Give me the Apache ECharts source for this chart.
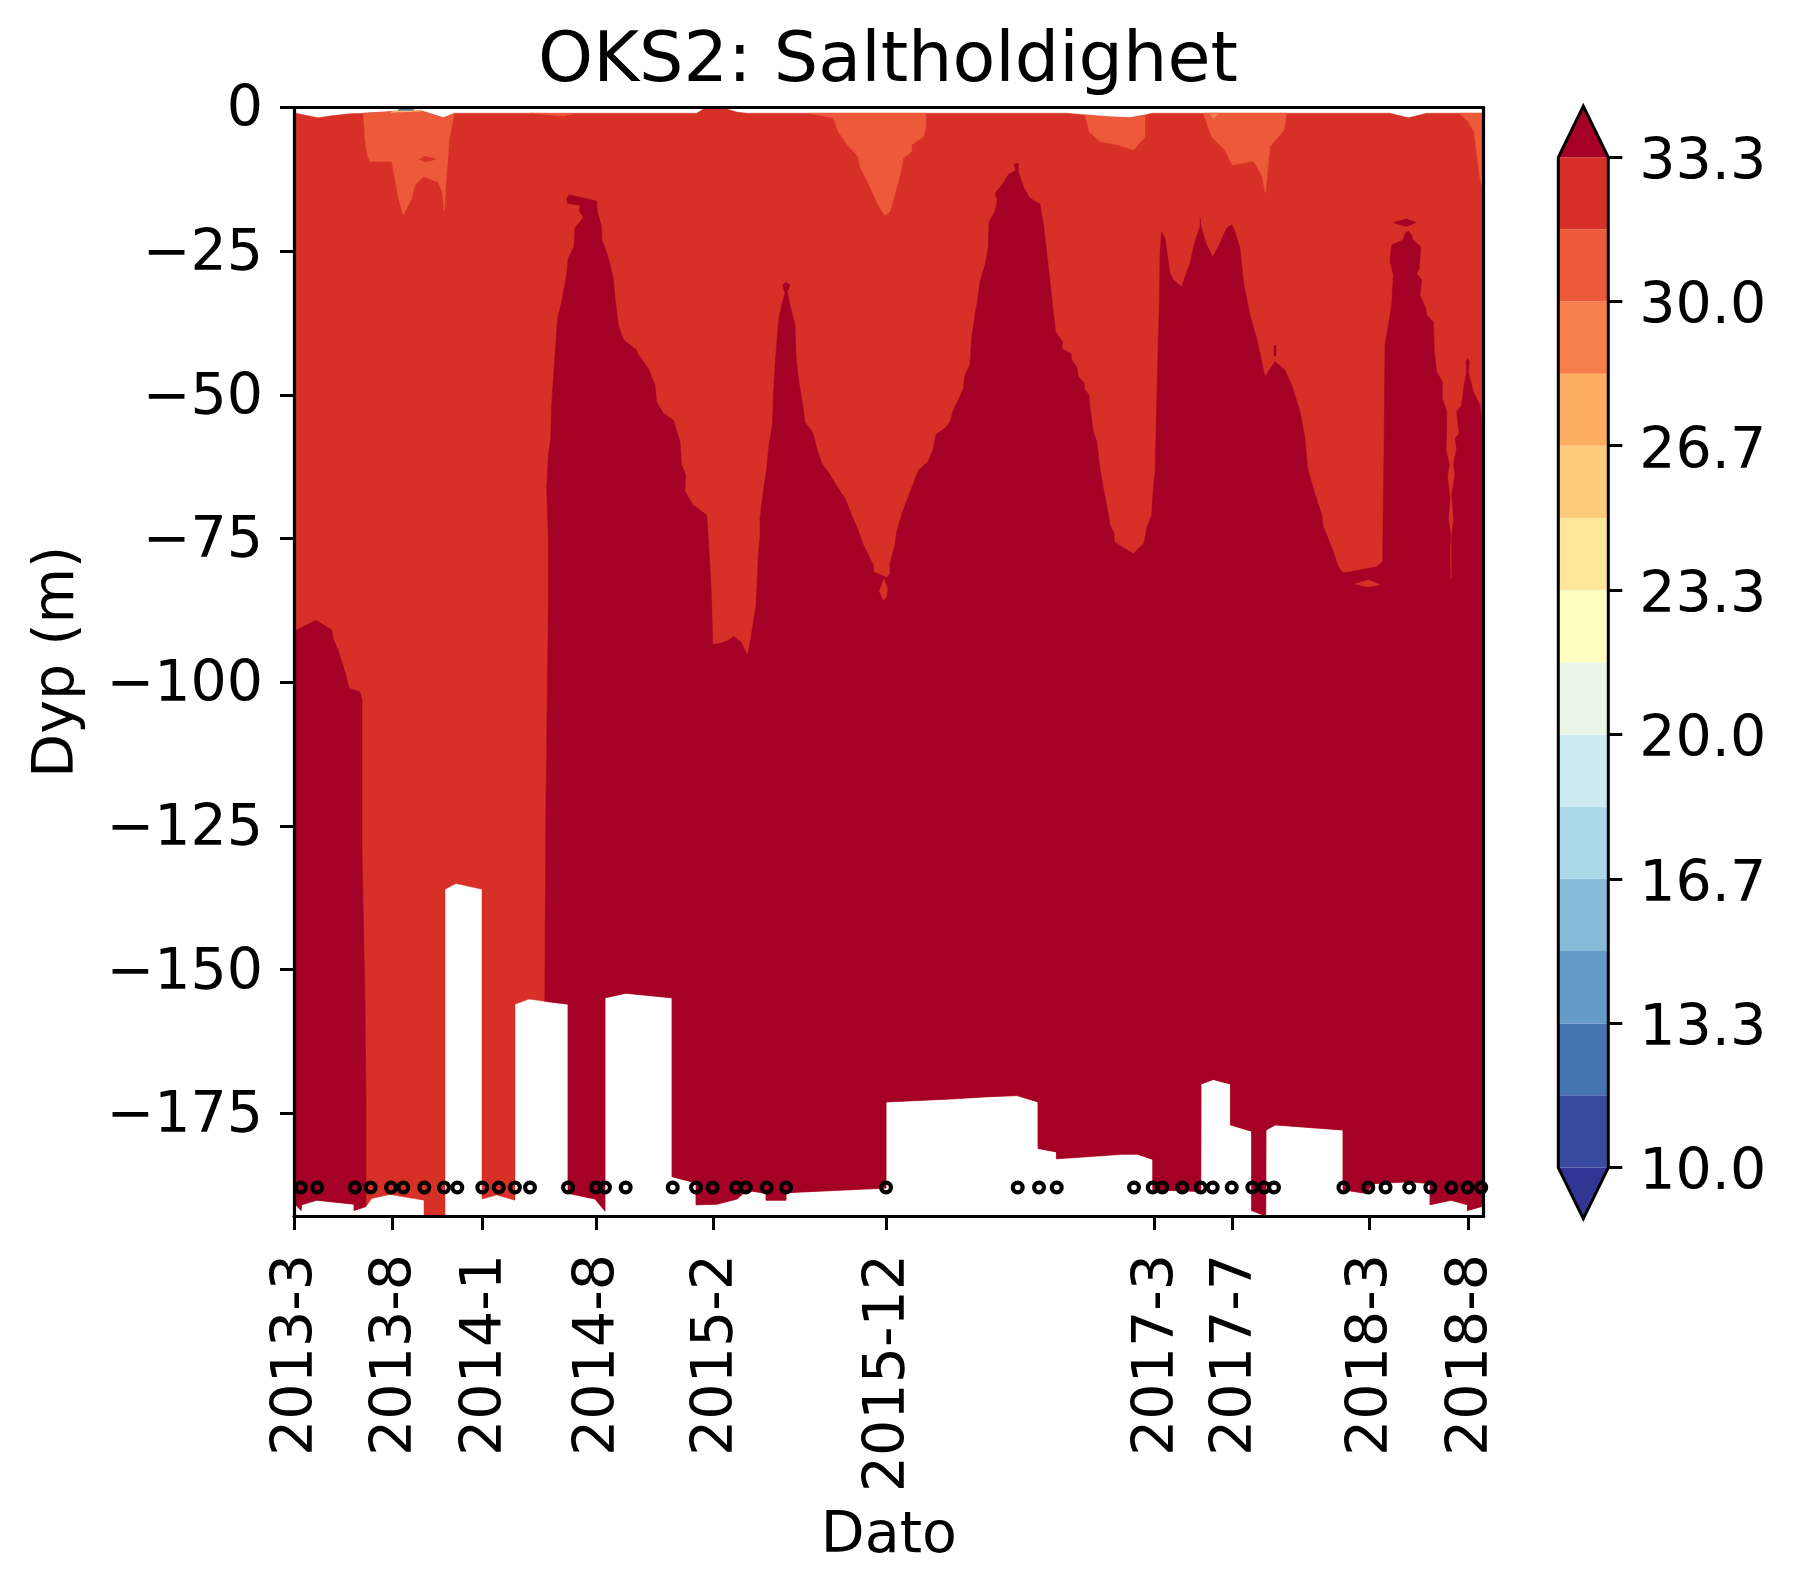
<!DOCTYPE html>
<html><head><meta charset="utf-8">
<style>html,body{margin:0;padding:0;background:#fff}#c{width:1795px;height:1593px}</style>
<script src="https://cdn.jsdelivr.net/npm/echarts@6/dist/echarts.min.js"></script>
</head><body><div id="c"></div>
<script>
// x = days after the first cruise, second value = depth in metres (positive down)
const xMax = 1982.8, depthMax = 192.85;
const xTickDays = [0,164.5,313.8,503.3,698.8,986.7,1434.2,1564,1791.7,1957.7];
const xTickLabels = ['2013-3','2013-8','2014-1','2014-8','2015-2','2015-12','2017-3','2017-7','2018-3','2018-8'];
const depthTicks = [0,-25,-50,-75,-100,-125,-150,-175];
const markerDays = [11.2,38.8,101.7,127.8,161.7,182.2,217.2,250,272.2,313.8,341.2,368.3,393.3,456.7,503.3,518.3,552.8,631.2,670,697.8,736.7,752.8,787.8,820,986.7,1206.2,1241.7,1271.2,1400,1431.2,1447.2,1480.5,1511.2,1531.2,1562.8,1597.2,1616.7,1633.3,1749,1790.5,1819.2,1858.7,1893.8,1928.8,1955.7,1978.7];
const markerDepth = 187.9;

const surface = [[0,0.9],[21.1,1.4],[40.5,1.8],[65.5,1.4],[93.3,1.1],[115.5,1],[165.5,0.7],[185,0.3],[212.8,0.6],[248.9,1.8],[268.3,1],[671.1,1],[685,0.1],[715.5,0.1],[737.8,0.8],[754.4,1],[1287.8,1],[1321.1,1.3],[1354.4,1.6],[1393.3,1.8],[1418.3,1.3],[1429.4,1],[1826.7,1],[1857.2,1.8],[1887.8,1],[1982.8,1]];
const bottom = [[0,190.6],[11.7,191.9],[12.8,190.9],[37.8,190.1],[100,190.8],[100,191.9],[120,191.2],[129.5,189.8],[160,189.1],[216.7,190.1],[216.7,192.85],[251.7,192.85],[251.7,136],[270,135],[313.3,136],[313.3,189.9],[337.8,189.2],[368.3,190.1],[368.3,156],[391.7,155.1],[418,155.5],[456.7,156],[456.7,188.9],[501.7,189.9],[518.3,192],[518.3,154.9],[553.3,154.1],[630,154.9],[630,186],[670,187.1],[670,190.9],[704.5,190.8],[738.3,189.9],[754.5,188.4],[786.7,188.9],[786.7,190.1],[820,190.1],[820,188.8],[986.7,188],[986.7,173],[1093.3,172.5],[1156.7,172.1],[1205,171.9],[1240,173],[1240,181.1],[1270.7,181.7],[1270.7,182.9],[1313.3,182.6],[1380,182.1],[1405.8,182.1],[1431.3,183],[1431.3,188.3],[1511.2,188.6],[1511.7,169.9],[1532.2,169.1],[1560.8,169.9],[1560.8,177],[1596,178.1],[1596,191.9],[1619.5,192.85],[1620,177.9],[1635.5,177],[1748.3,177.9],[1748.3,188.3],[1785,188.9],[1801.7,187.2],[1858.3,186.9],[1893.3,187.2],[1893.3,190.9],[1928.3,190.1],[1955.7,190.9],[1955.7,191.9],[1982.8,191.1]];

const haloclineLeft = [[0,91.1],[11.7,90.5],[36.7,89.2],[63.3,90.9],[65,92.3],[73.3,94.4],[85,98.2],[91.7,101],[110,101.7],[113.3,103.1],[113.3,129.2],[118.3,155.3],[120,172.7],[120,191.2]];
const haloclineMain = [[418,155.5],[420,120],[423.9,86.6],[423.9,75],[421.1,66.3],[423.9,60.5],[427.8,57.6],[429.4,51.8],[435,43.1],[439.4,36.7],[446.1,33.8],[454.5,29.1],[457.2,26.2],[466.7,24.2],[468.3,21],[482.2,19.1],[475.5,18],[476.6,17],[455.6,16.7],[454.5,15.8],[458.9,15.2],[493.3,16],[504.4,16.3],[505.5,18.1],[512.7,20.7],[512.7,22.8],[523.9,26.2],[532.2,29.7],[535,33.2],[540.5,37.8],[548.9,40.4],[571.1,42.2],[573.9,43],[590.5,45.4],[601.6,48.3],[604.4,51.2],[615.5,53.2],[632.2,54.4],[643.3,58.1],[646.1,62.2],[652.8,63.9],[651.6,66.8],[665.5,69.2],[687.8,70.9],[690.5,75],[694.4,81.9],[696.1,86.6],[698,93.4],[710,93.2],[722,92.8],[733,92],[745,93],[752,94.5],[756,95.3],[762,92],[768,88],[770,86.6],[773.9,77.9],[776.6,75],[776.6,71.5],[782.2,66.8],[787.8,62.8],[791.7,58.7],[797.2,55.2],[798.9,50.6],[801.7,44.8],[804.4,41.3],[807.2,37.3],[812.8,34.4],[818.3,32.3],[814.4,30.9],[820,30.4],[826.7,30.9],[822.2,32],[826.7,34.4],[835,37.8],[836.7,43.1],[840.5,47.1],[846.1,50.6],[851.7,54.7],[865.5,56.7],[871.1,59.3],[879.4,61.9],[890.5,63.4],[907.2,66.3],[918.3,68],[929.4,70.9],[937.8,72.9],[948.9,76.1],[965.5,79.6],[965.5,80.8],[985,81.6],[987.8,81.9],[993.3,81],[993.3,79.3],[1001.6,76.1],[1004.4,73.8],[1015.5,70],[1023.9,67.7],[1032.2,65.4],[1040.5,63.1],[1057.2,61.6],[1065.5,59.3],[1070,56.9],[1085,55.8],[1093.3,54.7],[1098.9,52.6],[1107.2,50.9],[1115.5,48.9],[1118.3,46.5],[1126.6,44.8],[1129.4,40.2],[1135,36.1],[1140.5,32.6],[1143.3,30.3],[1151.6,27.4],[1157.2,24.5],[1158.3,19.9],[1168.3,18.1],[1172.2,16.1],[1168.3,14.9],[1182.2,13.2],[1190.5,11.7],[1203.3,10.9],[1200,9.9],[1207.2,9.7],[1207.2,11.2],[1215.5,13.8],[1226.6,15.8],[1243.3,16.8],[1250,21],[1254.4,25.1],[1260,30.3],[1265.5,35.5],[1269.4,39],[1281.1,40.8],[1279.4,42],[1295,42.8],[1296.1,43.9],[1304.4,45.1],[1307.2,46.8],[1316.6,47.9],[1318.3,49.1],[1325,50],[1326.6,52.3],[1332.2,56.4],[1337.8,58.1],[1343.3,62.8],[1348.9,66.3],[1354.4,69.2],[1360,72.6],[1366.6,74.1],[1367.2,75.5],[1382.2,76.6],[1398.9,77.6],[1416.6,75.8],[1421.1,73.2],[1429.4,70.9],[1432.2,66.3],[1435,63.4],[1437.8,51.8],[1440.5,40.2],[1442.2,34.4],[1443.3,25.7],[1446.1,21.6],[1451.6,22.8],[1460,28.8],[1465.5,30],[1479.4,31.2],[1493.3,27.1],[1501.6,23.3],[1510,20.7],[1510.5,19.3],[1511.6,20.7],[1521.1,23.9],[1531.1,26],[1543.3,23.6],[1554.4,21],[1562.8,20.4],[1568.3,21.6],[1576.6,24.5],[1582.2,30.3],[1593.3,36.1],[1604.4,40.2],[1618.3,46.8],[1635,44.2],[1651.6,45.7],[1662.8,48.3],[1676.6,52.9],[1685,57.6],[1688.9,62.5],[1698.9,66.3],[1712.8,70.9],[1715.5,72.9],[1732.2,77.3],[1740.5,79.9],[1748.9,81],[1804.4,79.9],[1814.4,79],[1815.5,69.2],[1817.2,54.7],[1818.3,41.3],[1823.9,37.9],[1829.4,34.4],[1832.2,29.1],[1826.7,26.8],[1829.4,23.9],[1848.9,23],[1851.6,21.9],[1857.2,21.5],[1862.8,22.2],[1864.4,23],[1877.8,24.2],[1875.5,28],[1871.1,28.9],[1879.4,30],[1876.6,32.6],[1886.1,34.9],[1887.8,36.1],[1898.9,37.3],[1900.5,42.5],[1904.4,46],[1913.9,47.7],[1913.9,50.6],[1921.1,52.9],[1921.1,56.4],[1920,59.6],[1925.6,62.2],[1922.2,64.2],[1926.6,68],[1923.9,71.5],[1927.8,74.4],[1926.7,76.7],[1927.2,81.9],[1929.4,81.9],[1929.4,74.4],[1932.8,71.5],[1929.4,67.4],[1935,63.9],[1932.2,62.2],[1937.8,59.3],[1935,57.6],[1941.7,56.7],[1937.8,52.9],[1946.1,51.8],[1950,48.3],[1954.5,46],[1953.3,44.2],[1956.1,43.6],[1958.9,44.2],[1957.2,46],[1965.5,49.4],[1976.6,51.8],[1979.4,54.1],[1982.8,54.5]];
const saltIslandA = [[1832.2,20],[1854.4,19.4],[1870,20],[1854.4,20.7],[1843.3,20.4]];
const saltIslandB = [[1633.3,41.4],[1636.6,41.4],[1636.6,43.2],[1633.3,43.2]];
const redDrop = [[975.6,84.2],[983.3,82],[988.9,83.7],[987.8,85.1],[982.2,85.7]];
const redIslandA = [[1768.3,82.9],[1790.5,82.2],[1810,83],[1790.5,83.4]];
const redIslandB = [[208.9,9],[218.3,8.5],[236.7,9],[218.3,9.5]];

const freshA = [[115.5,1],[118.3,5.4],[122.2,8.3],[126.6,9.4],[162.8,9.4],[168.3,12.3],[173.9,15.8],[182.2,18.7],[196.1,15.8],[201.6,13.5],[215.5,12],[240.5,13],[247.2,14.6],[250.5,18],[254.4,11.2],[255.5,10],[258.9,5.4],[267.2,1],[248.9,1.8],[212.8,0.6],[185,0.3],[165.5,0.7]];
const freshB = [[857.2,1],[898.9,1.8],[907.2,4.2],[922.2,6.5],[940.5,8.6],[943.3,10.3],[957.2,13.2],[974,17],[985,18.8],[993.3,18.1],[1001.6,14.9],[1010,11.8],[1015.5,8.8],[1029.4,7.7],[1029.4,6.5],[1048.9,5.1],[1053.3,3.6],[1053.3,1]];
const freshC = [[1318.3,1.3],[1325.5,4.2],[1343.3,5.9],[1376.7,6.6],[1398.9,7.4],[1418.3,5.1],[1418.3,1.3],[1393.3,1.8],[1354.4,1.6]];
const freshD = [[1515.5,1],[1529.4,5.1],[1551.6,7.4],[1563.9,10],[1598.9,9.3],[1612.8,11.7],[1618.9,14.8],[1626.6,6.8],[1650,3.9],[1654.4,1]];
const freshE = [[1942.2,1],[1957.2,2.5],[1966.7,4.2],[1970,7.1],[1976.6,12.3],[1979.4,13.5],[1982.8,15],[1982.8,1]];
const freshF = [[393.3,1],[418.3,1.2],[448.9,1.5],[465.5,1.1]];
const fresherA = [[1526.6,1],[1532.2,2],[1541.6,1]];
const surfaceYellow = [[162,0.84],[173,0.5],[198,0.5],[212.8,0.6]];
const surfaceBlue = [[174,0.5],[174,0.3],[199,0.3],[199,0.5]];

const barEdges = [10,11.67,13.33,15,16.67,18.33,20,21.67,23.33,25,26.67,28.33,30,31.67,33.33];
const barColors = ['#3a4a9f','#4574b3','#649ac6','#86bcd9','#aad8e9','#cde9f2','#e9f6e8','#ffffc0','#fee79a','#fdcb7c','#fdad60','#f67f4b','#ec5a3a','#d73027'];
const barTicks = [10,13.33,16.67,20,23.33,26.67,30,33.33];
const overColor = '#a50026', underColor = '#313695';
const redFill = '#d73027', darkFill = '#a50026', orangeFill = '#ec5a3a';
const arrowUp = 34.51, arrowDown = 8.82;

const FONT = 'DejaVu Sans', TICK = 57;

function poly(points, fill, xi, yi){
  return {type:'custom', silent:true, z:1, clip:true, xAxisIndex:xi||0, yAxisIndex:yi||0,
    coordinateSystem:'cartesian2d', animation:false, data:[[0,0]],
    renderItem:function(p, api){
      return {type:'polygon', shape:{points:points.map(q=>api.coord([q[0],-q[1]]))}, style:{fill:fill, stroke:fill, lineWidth:0.5}};
    }};
}
const redBody = surface.concat(bottom.slice().reverse());
const darkLeft = haloclineLeft.concat(bottom.filter(q=>q[0]<120).reverse());
const darkMain = haloclineMain.concat(bottom.filter(q=>q[0]>418).reverse());

function barSeries(){
  return {type:'custom', silent:true, z:1, clip:false, xAxisIndex:2, yAxisIndex:2, animation:false,
    data:barColors.map((c,i)=>[i]),
    renderItem:function(p, api){
      const i=api.value(0), a=api.coord([0,barEdges[i]]), b=api.coord([1,barEdges[i+1]]);
      return {type:'rect', shape:{x:a[0],y:b[1],width:b[0]-a[0],height:a[1]-b[1]}, style:{fill:barColors[i]}};
    }};
}
function barCap(tip, base, fill){
  return {type:'custom', silent:true, z:1, clip:false, xAxisIndex:2, yAxisIndex:2, animation:false, data:[[0]],
    renderItem:function(p, api){
      return {type:'polygon', shape:{points:[api.coord([0,base]),api.coord([0.5,tip]),api.coord([1,base])]}, style:{fill:fill}};
    }};
}
function barFrame(){
  return {type:'custom', silent:true, z:5, clip:false, xAxisIndex:2, yAxisIndex:2, animation:false, data:[[0]],
    renderItem:function(p, api){
      return {type:'polygon', shape:{points:[[0,33.33],[0.5,arrowUp],[1,33.33],[1,10],[0.5,arrowDown],[0,10]].map(q=>api.coord(q))},
        style:{fill:'none', stroke:'#000', lineWidth:3, lineJoin:'miter'}};
    }};
}
const lineStyle = {color:'#000', width:3.2};
const tickStyle = {color:'#000', width:3};
const option = {
  animation:false, backgroundColor:'#fff',
  title:{text:'OKS2: Saltholdighet', left:883, top:23, textAlign:'center',
    textStyle:{fontFamily:FONT, fontSize:70, fontWeight:'normal', color:'#000'}},
  grid:[{left:294, top:107.5, width:1189.7, height:1108.5, outerBoundsMode:'none'},
        {left:1558.3, top:157.3, width:50, height:1010.3, outerBoundsMode:'none'}],
  xAxis:[
    {type:'value', gridIndex:0, min:0, max:xMax, z:3, position:'bottom', splitLine:{show:false},
      axisLine:{show:true, onZero:false, lineStyle}, axisTick:{length:14, lineStyle:tickStyle, customValues:xTickDays},
      axisLabel:{rotate:90, margin:38, verticalAlign:'top', lineHeight:7, fontFamily:FONT, fontSize:TICK, color:'#000', customValues:xTickDays,
        formatter:v=>xTickLabels[xTickDays.indexOf(v)]||''},
      name:'Dato', nameLocation:'middle', nameGap:293, nameTextStyle:{fontFamily:FONT, fontSize:TICK, color:'#000'}},
    {type:'value', gridIndex:0, min:0, max:xMax, z:3, position:'top', splitLine:{show:false},
      axisLine:{show:true, onZero:false, lineStyle}, axisTick:{show:false}, axisLabel:{show:false}},
    {type:'value', gridIndex:1, min:0, max:1, show:false, splitLine:{show:false}}
  ],
  yAxis:[
    {type:'value', gridIndex:0, min:-depthMax, max:0, z:3, position:'left', splitLine:{show:false},
      axisLine:{show:true, onZero:false, lineStyle}, axisTick:{length:14, lineStyle:tickStyle, customValues:depthTicks},
      axisLabel:{margin:31, verticalAlign:'top', lineHeight:8, fontFamily:FONT, fontSize:TICK, color:'#000', customValues:depthTicks,
        formatter:v=>String(v).replace('-','\u2212')},
      name:'Dyp (m)', nameLocation:'middle', nameGap:207, nameRotate:90, nameTextStyle:{fontFamily:FONT, fontSize:TICK, color:'#000'}},
    {type:'value', gridIndex:0, min:-depthMax, max:0, z:3, position:'right', splitLine:{show:false},
      axisLine:{show:true, onZero:false, lineStyle}, axisTick:{show:false}, axisLabel:{show:false}},
    {type:'value', gridIndex:1, min:10, max:33.33, z:6, position:'right', splitLine:{show:false},
      axisLine:{show:false, onZero:false}, axisTick:{show:true, length:14, lineStyle:tickStyle, customValues:barTicks},
      axisLabel:{margin:31, verticalAlign:'top', lineHeight:14, fontFamily:FONT, fontSize:TICK, color:'#000', customValues:barTicks,
        formatter:v=>v.toFixed(1)}}
  ],
  series:[
    poly(redBody, redFill),
    poly(darkLeft, darkFill),
    poly(darkMain, darkFill),
    poly(saltIslandA, darkFill),
    poly(saltIslandB, darkFill),
    poly(redDrop, redFill),
    poly(redIslandA, redFill),
    poly(freshA, orangeFill),
    poly(redIslandB, redFill),
    poly(freshB, orangeFill),
    poly(freshC, orangeFill),
    poly(freshD, orangeFill),
    poly(freshE, orangeFill),
    poly(freshF, orangeFill),
    poly(fresherA, '#f67f4b'),
    poly(surfaceYellow, '#fdcb7c'),
    poly(surfaceBlue, '#4574b3'),
    {type:'scatter', xAxisIndex:0, yAxisIndex:0, z:2, silent:true, clip:true, symbol:'circle', symbolSize:9.8,
      itemStyle:{color:'rgba(0,0,0,0)', borderColor:'#000', borderWidth:4.2, opacity:1},
      data:markerDays.map(d=>[d,-markerDepth])},
    barSeries(),
    barCap(arrowUp, 33.33, overColor),
    barCap(arrowDown, 10, underColor),
    barFrame()
  ]
};
const chart = echarts.init(document.getElementById('c'), null, {renderer:'canvas', width:1795, height:1593});
chart.setOption(option);
</script></body></html>
